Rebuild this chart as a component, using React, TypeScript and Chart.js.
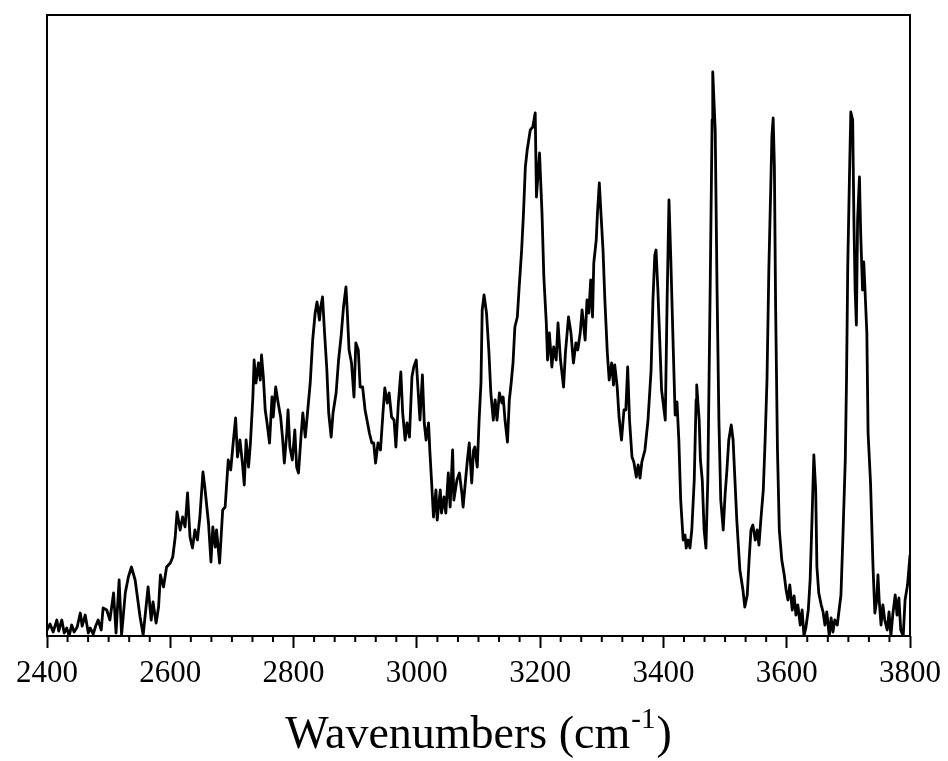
import React, { useEffect, useRef } from "react";
import { Chart, registerables } from "chart.js";

Chart.register(...registerables);

// Spectrum (x: wavenumber in cm^-1, y: intensity in arbitrary units)
const wavenumbers: number[] = [
  2400, 2405, 2410, 2416, 2419, 2424, 2428, 2432, 2436, 2440, 2444, 2449, 2454, 2457, 2462, 2467, 2470, 2475, 2479, 2483,
  2488, 2491, 2497, 2502, 2508, 2512, 2517, 2521, 2527, 2532, 2537, 2543, 2551, 2556, 2564, 2569, 2572, 2577, 2581, 2584,
  2589, 2594, 2600, 2604, 2608, 2611, 2616, 2620, 2624, 2628, 2632, 2636, 2640, 2644, 2648, 2653, 2656, 2662, 2666, 2669,
  2673, 2675, 2680, 2685, 2689, 2694, 2698, 2702, 2706, 2709, 2713, 2717, 2720, 2723, 2727, 2730, 2734, 2736, 2739, 2743,
  2746, 2748, 2751, 2754, 2757, 2761, 2765, 2767, 2771, 2775, 2779, 2782, 2785, 2789, 2791, 2794, 2798, 2802, 2805, 2808,
  2812, 2815, 2819, 2822, 2827, 2831, 2835, 2838, 2842, 2844, 2847, 2850, 2854, 2857, 2861, 2864, 2869, 2873, 2877, 2881,
  2885, 2887, 2890, 2894, 2898, 2901, 2905, 2908, 2912, 2916, 2920, 2923, 2927, 2930, 2933, 2937, 2941, 2945, 2948, 2952,
  2955, 2959, 2963, 2966, 2970, 2974, 2977, 2981, 2984, 2988, 2992, 2995, 2999, 3002, 3005, 3009, 3012, 3015, 3019, 3021,
  3024, 3027, 3031, 3033, 3038, 3040, 3044, 3047, 3051, 3054, 3058, 3060, 3065, 3069, 3073, 3075, 3079, 3082, 3085, 3089,
  3092, 3094, 3098, 3101, 3104, 3106, 3109, 3113, 3117, 3120, 3124, 3127, 3130, 3134, 3138, 3140, 3143, 3147, 3150, 3153,
  3156, 3159, 3163, 3166, 3170, 3173, 3176, 3179, 3184, 3188, 3192, 3194, 3199, 3203, 3206, 3210, 3212, 3215, 3219, 3222,
  3226, 3229, 3233, 3238, 3241, 3246, 3250, 3254, 3258, 3261, 3265, 3268, 3273, 3276, 3279, 3282, 3285, 3287, 3291, 3293,
  3296, 3299, 3302, 3305, 3309, 3312, 3316, 3319, 3321, 3325, 3328, 3332, 3336, 3339, 3342, 3345, 3349, 3352, 3356, 3359,
  3362, 3365, 3370, 3375, 3380, 3383, 3386, 3388, 3391, 3394, 3397, 3399, 3403, 3406, 3409, 3412, 3416, 3419, 3422, 3425,
  3428, 3432, 3435, 3437, 3440, 3443, 3446, 3450, 3453, 3454, 3458, 3460, 3463, 3466, 3469, 3472, 3476, 3479, 3480, 3484,
  3487, 3490, 3493, 3497, 3500, 3503, 3506, 3510, 3513, 3516, 3519, 3524, 3529, 3532, 3536, 3539, 3542, 3545, 3549, 3552,
  3555, 3558, 3562, 3565, 3568, 3571, 3574, 3576, 3578, 3580, 3582, 3585, 3588, 3592, 3596, 3599, 3602, 3605, 3609, 3612,
  3615, 3618, 3622, 3625, 3628, 3631, 3635, 3638, 3641, 3644, 3647, 3649, 3652, 3656, 3659, 3662, 3665, 3669, 3672, 3675,
  3678, 3682, 3685, 3688, 3691, 3695, 3697, 3699, 3702, 3704, 3707, 3709, 3711, 3713, 3715, 3718, 3720, 3723, 3725, 3727,
  3730, 3732, 3736, 3740, 3743, 3746, 3748, 3750, 3753, 3756, 3759, 3763, 3766, 3769, 3772, 3776, 3779, 3782, 3785, 3789,
  3792, 3796, 3800,
];

const intensity: number[] = [
  6, 12, 4, 16, 5, 16, 3, 8, 0, 11, 4, 9, 23, 10, 21, 3, 8, 2, 10, 16,
  6, 28, 26, 16, 43, 3, 56, 1, 43, 59, 69, 56, 19, 1, 49, 16, 34, 13, 29, 61,
  49, 69, 73, 79, 99, 124, 106, 119, 109, 143, 99, 88, 106, 96, 119, 164, 149, 113, 74, 109,
  89, 106, 73, 126, 129, 176, 166, 193, 218, 179, 196, 173, 151, 196, 169, 193, 239, 276, 253, 273,
  256, 281, 259, 226, 213, 193, 239, 219, 249, 233, 219, 199, 173, 203, 226, 189, 176, 206, 169, 163,
  199, 223, 199, 219, 253, 296, 323, 334, 316, 329, 339, 306, 266, 223, 199, 223, 243, 276, 299, 329,
  349, 326, 286, 273, 239, 293, 286, 249, 249, 226, 213, 203, 193, 193, 173, 193, 186, 223, 248, 233,
  243, 219, 216, 189, 233, 264, 223, 196, 213, 199, 259, 269, 276, 246, 216, 261, 213, 196, 213, 186,
  153, 119, 146, 116, 146, 123, 139, 123, 163, 129, 186, 136, 156, 163, 143, 129, 156, 176, 193, 153,
  186, 189, 169, 216, 253, 326, 341, 323, 283, 243, 216, 236, 216, 243, 233, 239, 216, 194, 236, 253,
  273, 309, 319, 349, 386, 423, 469, 486, 506, 509, 523, 439, 483, 423, 359, 313, 276, 303, 269, 289,
  276, 313, 276, 249, 283, 319, 303, 273, 293, 286, 303, 326, 296, 336, 323, 356, 319, 373, 396, 423,
  453, 419, 386, 336, 283, 256, 273, 251, 271, 249, 219, 196, 226, 226, 269, 216, 179, 174, 159, 171,
  158, 174, 186, 216, 266, 336, 381, 386, 346, 296, 246, 236, 216, 336, 436, 376, 286, 221, 234, 196,
  136, 96, 101, 88, 96, 88, 106, 156, 236, 251, 216, 176, 156, 106, 88, 156, 356, 516, 564, 506,
  346, 216, 136, 106, 141, 166, 196, 211, 196, 156, 116, 66, 46, 29, 41, 76, 106, 111, 96, 106,
  91, 116, 146, 196, 256, 366, 446, 500, 518, 470, 330, 186, 106, 76, 61, 46, 36, 51, 26, 40,
  21, 31, 11, 26, 0, 8, 26, 56, 116, 181, 146, 69, 43, 31, 24, 11, 24, 0, 18, 4,
  16, 11, 26, 41, 96, 176, 256, 369, 466, 524, 516, 416, 346, 311, 416, 459, 403, 346, 374, 346,
  303, 203, 153, 69, 23, 36, 61, 36, 11, 31, 16, 6, 24, 0, 21, 41, 21, 38, 6, 0,
  36, 51, 81,
];

const xMin = 2400;
const xMax = 3800;
const majorStep = 200;
const minorPerMajor = 6;
const yMin = 0;
const yMax = 621;

const titleMain = "Wavenumbers (cm";
const titleSup = "-1";
const titleEnd = ")";

const FONT = "'Liberation Serif', 'Times New Roman', Times, serif";

const framePlugin = {
  id: "frameAndExtras",
  afterDatasetsDraw(chart: any) {
    const { ctx, chartArea } = chart;
    const xs = chart.scales.x;
    ctx.save();
    ctx.strokeStyle = "#000";
    ctx.lineWidth = 2;
    ctx.strokeRect(chartArea.left, chartArea.top, chartArea.right - chartArea.left, chartArea.bottom - chartArea.top);
    // minor ticks
    const minorStep = majorStep / minorPerMajor;
    const n = ((xMax - xMin) / majorStep) * minorPerMajor;
    for (let i = 0; i <= n; i++) {
      if (i % minorPerMajor === 0) continue;
      const v = xMin + i * minorStep;
      const px = xs.getPixelForValue(v);
      ctx.beginPath();
      ctx.moveTo(px, chartArea.bottom);
      ctx.lineTo(px, chartArea.bottom + 6);
      ctx.stroke();
    }
    ctx.restore();
  },
  afterDraw(chart: any) {
    const { ctx, chartArea } = chart;
    const xs = chart.scales.x;
    ctx.save();
    ctx.fillStyle = "#000";
    ctx.textBaseline = "alphabetic";
    ctx.textAlign = "left";
    const mainFont = `46px ${FONT}`;
    const supFont = `29px ${FONT}`;
    ctx.font = mainFont;
    const w1 = ctx.measureText(titleMain).width;
    const w3 = ctx.measureText(titleEnd).width;
    ctx.font = supFont;
    const w2 = ctx.measureText(titleSup).width;
    const total = w1 + w2 + w3 + 2;
    let x = (chartArea.left + chartArea.right) / 2 - total / 2;
    const baseline = xs.bottom - 13;
    ctx.font = mainFont;
    ctx.fillText(titleMain, x, baseline);
    x += w1 + 1;
    ctx.font = supFont;
    ctx.fillText(titleSup, x, baseline - 20);
    x += w2 + 1;
    ctx.font = mainFont;
    ctx.fillText(titleEnd, x, baseline);
    ctx.restore();
  },
};

export default function App() {
  const canvasRef = useRef<HTMLCanvasElement | null>(null);

  useEffect(() => {
    if (!canvasRef.current) return;
    const points = wavenumbers.map((w, i) => ({ x: w, y: intensity[i] }));
    const chart = new Chart(canvasRef.current, {
      type: "line",
      data: {
        datasets: [
          {
            label: "Spectrum",
            data: points,
            borderColor: "#000",
            borderWidth: 2.8,
            pointRadius: 0,
            tension: 0,
            fill: false,
            borderJoinStyle: "round",
          },
        ],
      },
      options: {
        animation: false,
        responsive: false,
        maintainAspectRatio: false,
        layout: { padding: { left: 47, right: 38, top: 15, bottom: 0 } },
        plugins: {
          legend: { display: false },
          tooltip: { enabled: false },
          title: { display: false },
        },
        scales: {
          x: {
            type: "linear",
            min: xMin,
            max: xMax,
            afterFit: (scale: any) => {
              scale.height = 125;
            },
            afterBuildTicks: (scale: any) => {
              const t = [];
              for (let v = xMin; v <= xMax; v += majorStep) t.push({ value: v });
              scale.ticks = t;
            },
            ticks: {
              stepSize: majorStep,
              autoSkip: false,
              maxRotation: 0,
              minRotation: 0,
              padding: 7,
              color: "#000",
              font: { family: FONT, size: 31 },
              callback: (v: any) => String(v),
            },
            grid: {
              display: true,
              drawOnChartArea: false,
              drawTicks: true,
              tickLength: 12,
              tickColor: "#000",
              tickWidth: 2,
            },
            border: { display: false },
            title: { display: false },
          },
          y: {
            display: false,
            min: yMin,
            max: yMax,
          },
        },
      },
      plugins: [framePlugin],
    });
    return () => chart.destroy();
  }, []);

  return (
    <div style={{ position: "fixed", left: 0, top: 0, width: 948, height: 761, background: "#fff" }}>
      <canvas ref={canvasRef} width={948} height={761} style={{ display: "block", width: 948, height: 761 }} />
    </div>
  );
}
